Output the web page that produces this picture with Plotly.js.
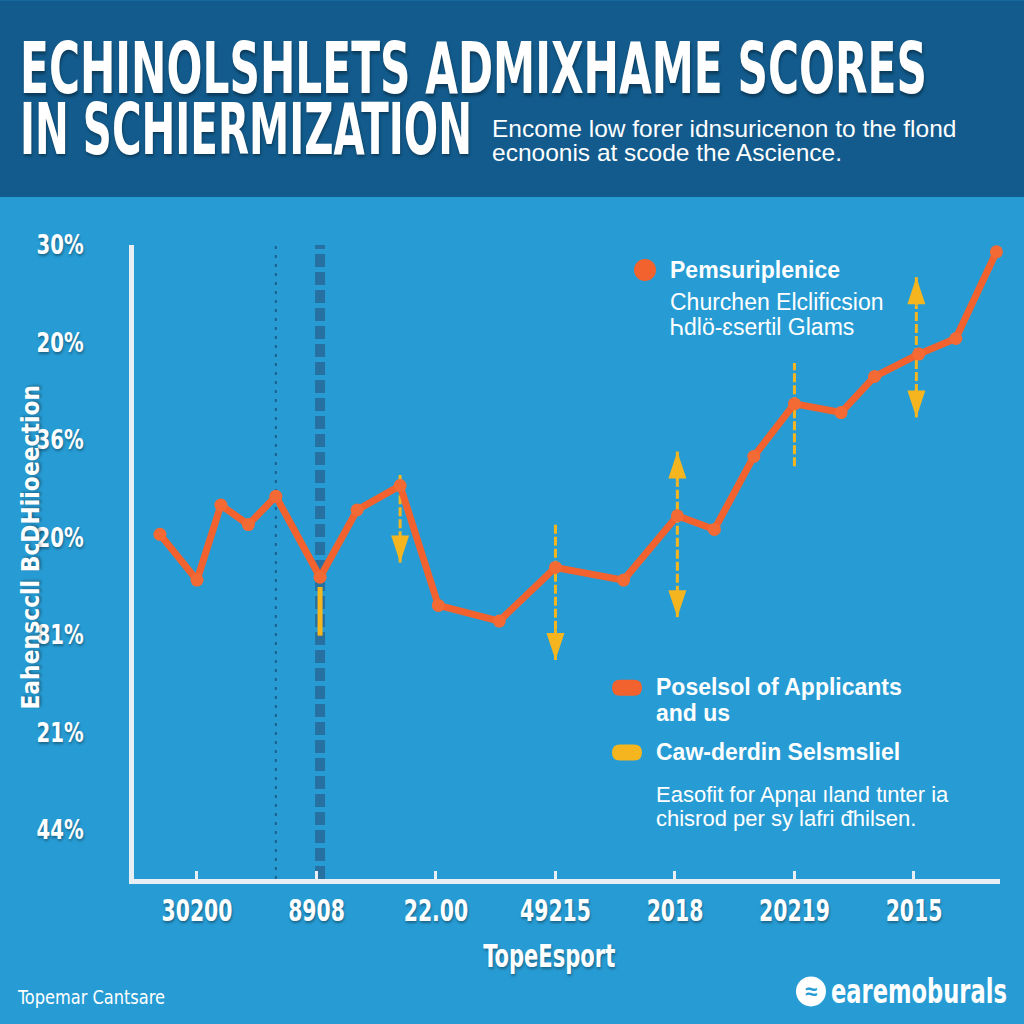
<!DOCTYPE html>
<html>
<head>
<meta charset="utf-8">
<script src="https://cdn.plot.ly/plotly-3.0.1.min.js"></script>
<style>html,body{margin:0;padding:0;background:#279cd4;}#chart{width:1024px;height:1024px;}</style>
</head>
<body>
<div id="chart"></div>
<script>
// ---- data ----
const xTickLabels = ['30200', '8908', '22.00', '49215', '2018', '20219', '2015'];
const xTickPos = [0, 1, 2, 3, 4, 5, 6];
const yTickLabels = ['30%', '20%', '36%', '20%', '81%', '21%', '44%'];
const yTickPos = [60, 50, 40, 30, 20, 10, 0];
const seriesX = [-0.31, 0, 0.20, 0.43, 0.66, 1.03, 1.34, 1.70, 2.02, 2.53, 3.00, 3.57, 4.02, 4.33, 4.66, 5.00, 5.39, 5.67, 6.04, 6.35, 6.69];
const seriesY = [30.3, 25.6, 33.3, 31.3, 34.2, 25.9, 32.8, 35.3, 23.0, 21.4, 26.9, 25.6, 32.2, 30.8, 38.3, 43.7, 42.8, 46.5, 48.8, 50.4, 59.3];
// yellow range markers
const arrowX = [1.03, 1.70, 3.00, 4.02, 5.00, 6.02];
const arrowTop = [24.9, 36.4, 31.3, 35.7, 47.9, 53.8];
const arrowBottom = [19.9, 29.7, 20.5, 24.1, 37.3, 44.8];
const upHeadTip = [null, null, null, 38.8, null, 56.7];
const downHeadTip = [null, 27.4, 17.4, 21.8, null, 42.3];
// reference lines
const refLineX = [0.66, 1.03];

// ---- layout helpers (pixel -> paper) ----
const L = 134, R = 24, T = 245, B = 144.5, W = 1024, H = 1024;
const pw = W - L - R, ph = H - T - B;
const px = v => (v - L) / pw;
const py = v => (H - B - v) / ph;

const ORANGE = '#f2622e';
const YELLOW = '#f5b51f';
const BG = '#279cd4';
const shadow = '1px 2px 3px rgba(0,0,0,0.35)';
const COND = 'DejaVu Sans Condensed, DejaVu Sans, sans-serif';
const SANS = 'Liberation Sans, Arial, sans-serif';

const shapes = [];
shapes.push({type: 'rect', xref: 'paper', yref: 'paper', x0: px(0), x1: px(1024), y0: py(197), y1: py(0),
  fillcolor: '#125b8c', line: {width: 0}, layer: 'below'});
shapes.push({type: 'line', xref: 'x', yref: 'paper', x0: refLineX[0], x1: refLineX[0], y0: 0, y1: 1,
  line: {color: '#1d5f8f', width: 2, dash: '3px,6px'}, layer: 'below'});
shapes.push({type: 'line', xref: 'x', yref: 'paper', x0: refLineX[1], x1: refLineX[1], y0: 0, y1: 1,
  line: {color: 'rgba(38,95,140,0.7)', width: 10, dash: '13px,5px'}, layer: 'below'});
for (let i = 0; i < arrowX.length; i++) {
  shapes.push({type: 'line', xref: 'x', yref: 'y', x0: arrowX[i], x1: arrowX[i], y0: arrowBottom[i], y1: arrowTop[i],
    line: {color: YELLOW, width: i === 0 ? 5 : 3, dash: i === 0 ? 'solid' : '9px,3px'}, layer: 'below'});
  if (upHeadTip[i] !== null) {
    shapes.push({type: 'path', xref: 'x', yref: 'y', xsizemode: 'pixel', ysizemode: 'pixel',
      xanchor: arrowX[i], yanchor: upHeadTip[i], path: 'M0,0 L-9,-27 L9,-27 Z',
      fillcolor: YELLOW, line: {width: 0}});
    shapes.push({type: 'line', xref: 'x', yref: 'y', x0: arrowX[i], x1: arrowX[i], y0: upHeadTip[i], y1: arrowTop[i],
      line: {color: YELLOW, width: 3}, layer: 'below'});
  }
  if (downHeadTip[i] !== null) {
    shapes.push({type: 'path', xref: 'x', yref: 'y', xsizemode: 'pixel', ysizemode: 'pixel',
      xanchor: arrowX[i], yanchor: downHeadTip[i], path: 'M0,0 L-9,27 L9,27 Z',
      fillcolor: YELLOW, line: {width: 0}});
    shapes.push({type: 'line', xref: 'x', yref: 'y', x0: arrowX[i], x1: arrowX[i], y0: downHeadTip[i], y1: arrowBottom[i],
      line: {color: YELLOW, width: 3}, layer: 'below'});
  }
}
const pill = 'M-7,-8 H7 Q15,-8 15,0 Q15,8 7,8 H-7 Q-15,8 -15,0 Q-15,-8 -7,-8 Z';
shapes.push({type: 'circle', xref: 'paper', yref: 'paper', xsizemode: 'pixel', ysizemode: 'pixel',
  xanchor: px(645), yanchor: py(270), x0: -11, x1: 11, y0: -11, y1: 11, fillcolor: ORANGE, line: {width: 0}});
shapes.push({type: 'path', xref: 'paper', yref: 'paper', xsizemode: 'pixel', ysizemode: 'pixel',
  xanchor: px(627), yanchor: py(688), path: pill, fillcolor: ORANGE, line: {width: 0}});
shapes.push({type: 'path', xref: 'paper', yref: 'paper', xsizemode: 'pixel', ysizemode: 'pixel',
  xanchor: px(627), yanchor: py(753), path: pill, fillcolor: YELLOW, line: {width: 0}});
shapes.push({type: 'circle', xref: 'paper', yref: 'paper', xsizemode: 'pixel', ysizemode: 'pixel',
  xanchor: px(811), yanchor: py(992), x0: -15, x1: 15, y0: -15, y1: 15, fillcolor: '#ffffff', line: {width: 0}});

function A(text, x, y, font, extra) {
  return Object.assign({text: text, xref: 'paper', yref: 'paper', x: px(x), y: py(y), showarrow: false,
    xanchor: 'left', yanchor: 'middle', align: 'left', font: Object.assign({color: '#ffffff'}, font)}, extra || {});
}
const boldC = (s) => ({family: COND, size: s, weight: 'bold', shadow: shadow});

// target widths (px) for condensed display texts, by annotation index
const fitWidth = {};
const annotations = [];
function add(a, width) { if (width) fitWidth[annotations.length] = width; annotations.push(a); }

add(A('ECHINOLSHLETS ADMIXHAME SCORES', 18, 68, boldC(72)), 907);
add(A('IN SCHIERMIZATION', 18, 129, boldC(72)), 452);
add(A('Encome low forer idnsuricenon to the flond', 490, 128, {family: SANS, size: 24.5}));
add(A('ecnoonis at scode the Ascience.', 490, 152, {family: SANS, size: 24.5}));
add(A('Eahensccll BcDHiioeection', 30, 548, boldC(26), {xanchor: 'center', align: 'center', textangle: -90}), 325);
add(A('TopeEsport', 549, 957, boldC(32), {xanchor: 'center', align: 'center'}), 132);
add(A('Topemar Cantsare', 15, 998, {family: COND, size: 19}), 147);
add(A('earemoburals', 829, 992, {family: COND, size: 33, weight: 'bold'}), 176);
add(A('≈', 811, 992, {family: SANS, size: 22, color: BG, weight: 'bold'}, {xanchor: 'center', align: 'center'}));
add(A('Pemsuriplenice', 668, 270, {family: SANS, size: 23, weight: 'bold'}));
add(A('Churchen Elclificsion', 668, 302, {family: SANS, size: 23}));
add(A('Ꮒdlö-ɛsertil Glams', 668, 327, {family: SANS, size: 23}));
add(A('Poselsol of Applicants', 654, 687, {family: SANS, size: 23, weight: 'bold'}));
add(A('and us', 654, 713, {family: SANS, size: 23, weight: 'bold'}));
add(A('Caw-derdin Selsmsliel', 654, 752, {family: SANS, size: 23, weight: 'bold'}));
add(A('Easofit for Apηaι ıland tιnter ia', 654, 795, {family: SANS, size: 22}));
add(A('chisrod per sy lafri ᵭhilsen.', 654, 819, {family: SANS, size: 22}));

const trace = {
  x: seriesX, y: seriesY, type: 'scatter', mode: 'lines+markers', cliponaxis: false,
  line: {color: ORANGE, width: 7},
  marker: {color: '#f46a34', size: 13},
  hoverinfo: 'skip', showlegend: false
};

const layout = {
  width: W, height: H,
  margin: {l: L, r: R, t: T, b: B, pad: 0},
  paper_bgcolor: BG, plot_bgcolor: 'rgba(0,0,0,0)',
  showlegend: false,
  xaxis: {range: [-0.527, 6.72], tickvals: xTickPos, ticktext: xTickLabels, showgrid: false, zeroline: false,
    showline: true, linecolor: '#e8eff4', linewidth: 5, ticks: 'inside', ticklen: 8, tickwidth: 3, tickcolor: '#e8eff4',
    ticklabelstandoff: 0,
    tickfont: {family: COND, size: 31, color: '#ffffff', weight: 'bold', shadow: shadow}},
  yaxis: {range: [-5.08, 60.0], tickvals: yTickPos, ticktext: yTickLabels, showgrid: false, zeroline: false,
    showline: true, linecolor: '#e8eff4', linewidth: 5, ticks: '', ticklabelstandoff: 40,
    tickfont: {family: COND, size: 27, color: '#ffffff', weight: 'bold', shadow: shadow}},
  shapes: shapes,
  annotations: annotations
};

function squeeze(el, target) {
  el.setAttribute('textLength', target);
  el.setAttribute('lengthAdjust', 'spacingAndGlyphs');
}
// shrink the font so the text really is `target` px wide, then stretch it back vertically
function condense(el, target) {
  const bb0 = el.getBBox();
  const nat = el.getComputedTextLength();
  const fs = parseFloat(window.getComputedStyle(el).fontSize);
  if (!nat || !fs) { squeeze(el, target); return; }
  el.style.fontSize = (fs * target / nat) + 'px';
  const bb1 = el.getBBox();
  const s = bb0.height / bb1.height;
  const ty = bb0.y - s * bb1.y;
  const ex = el.getAttribute('transform');
  el.setAttribute('transform', (ex ? ex + ' ' : '') + 'translate(0,' + ty + ') scale(1,' + s + ')');
}

Plotly.newPlot('chart', [trace], layout, {staticPlot: true, displayModeBar: false}).then(function (gd) {
  Object.keys(fitWidth).forEach(function (i) {
    const t = gd.querySelector('.annotation[data-index="' + i + '"] text.annotation-text');
    if (t) condense(t, fitWidth[i]);
  });
  gd.querySelectorAll('.xtick text').forEach(function (t) { squeeze(t, t.getComputedTextLength() * 0.73); });
  gd.querySelectorAll('.ytick text').forEach(function (t) { squeeze(t, t.getComputedTextLength() * 0.81); });
});
</script>
</body>
</html>
